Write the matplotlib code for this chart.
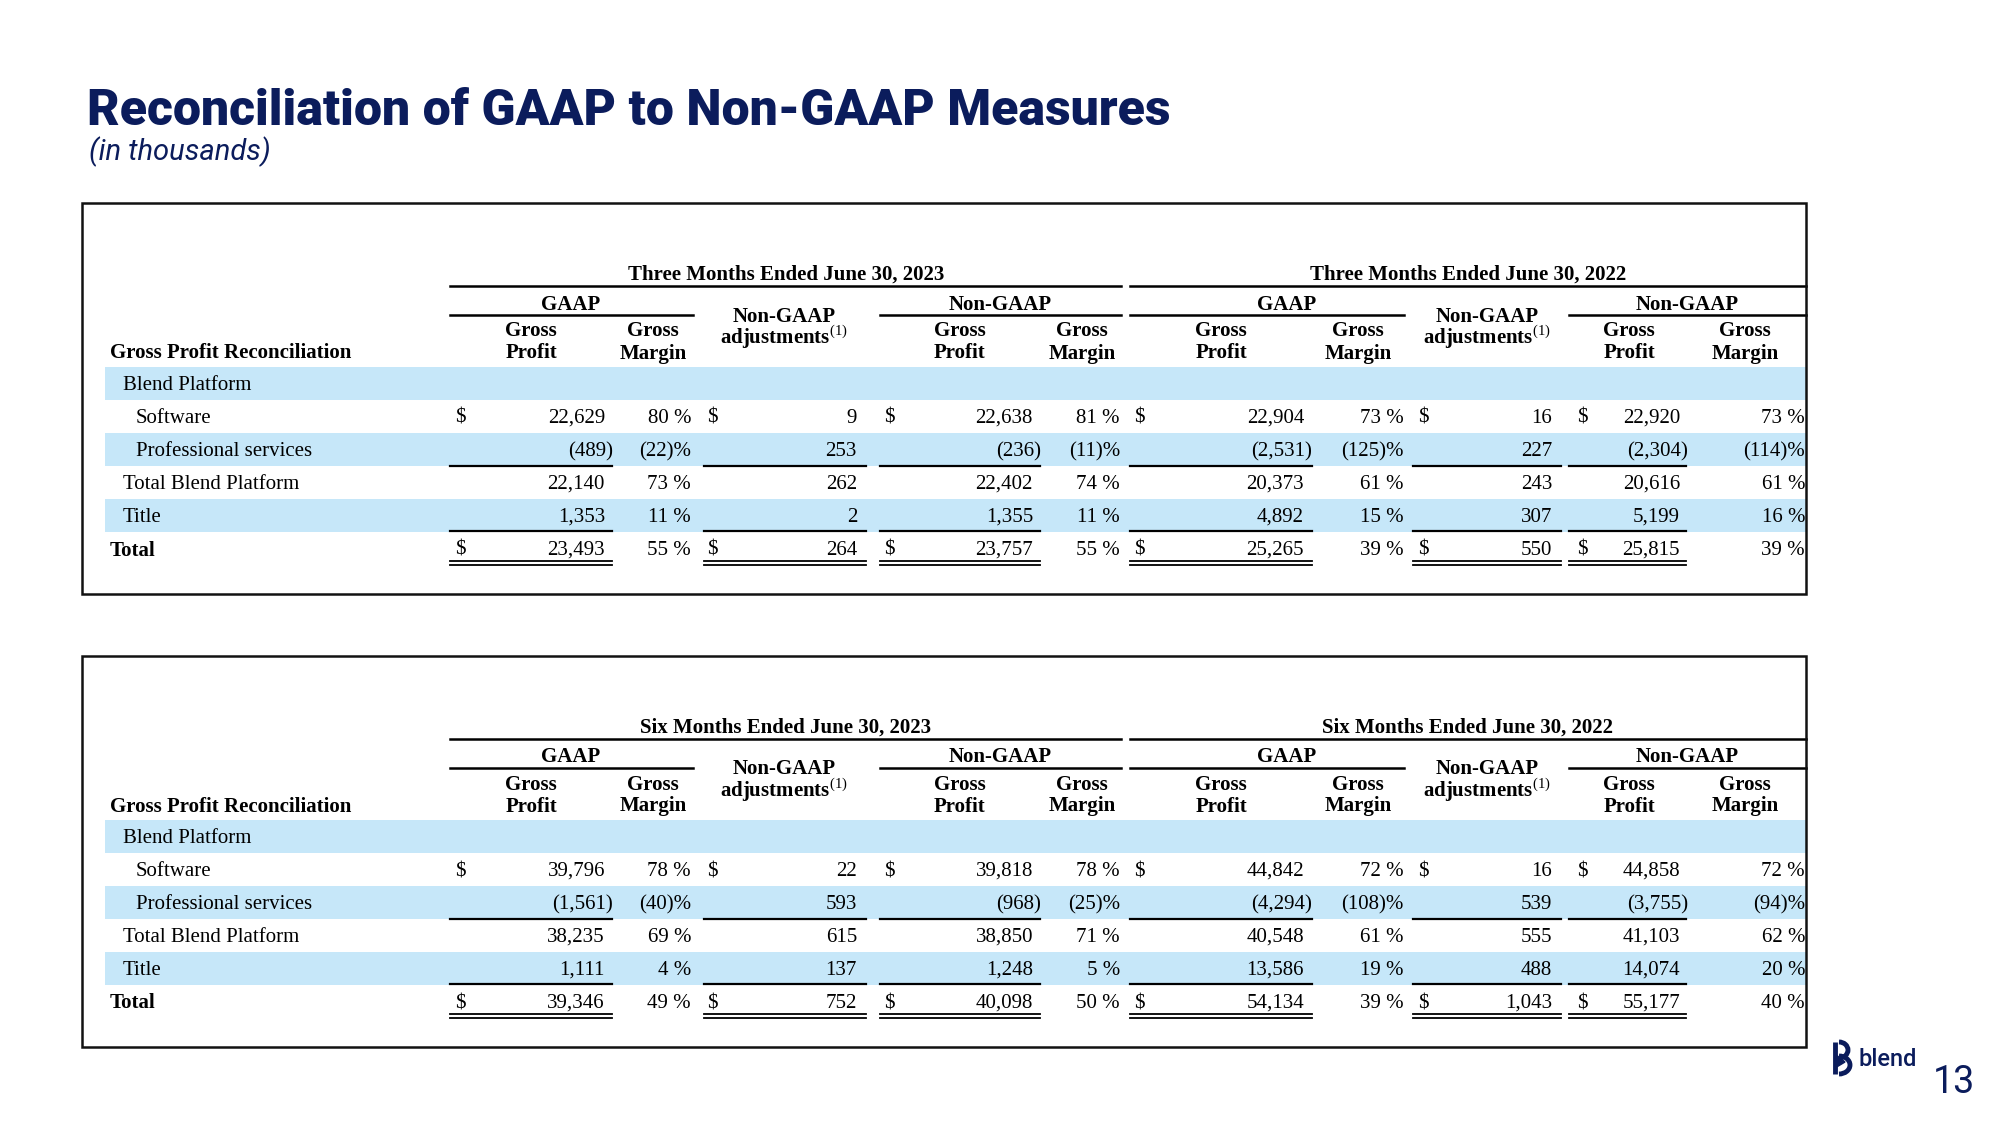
import matplotlib.pyplot as plt
from matplotlib.patches import Rectangle, Arc, Polygon

plt.rcParams['mathtext.fontset'] = 'custom'
plt.rcParams['mathtext.rm'] = 'Liberation Serif'

NAVY = "#0b1c5c"
BAND = "#c6e7f9"
SERIF = "Liberation Serif"

# ---- data -------------------------------------------------------------
row_labels = ["Blend Platform", "Software", "Professional services",
              "Total Blend Platform", "Title", "Total"]
row_indent = [1, 2, 2, 1, 1, 0]

periods_q = ["Three Months Ended June 30, 2023", "Three Months Ended June 30, 2022"]
q23_gaap_gp = [22629, -489, 22140, 1353, 23493]
q23_gaap_gm = [80, -22, 73, 11, 55]
q23_adj = [9, 253, 262, 2, 264]
q23_ng_gp = [22638, -236, 22402, 1355, 23757]
q23_ng_gm = [81, -11, 74, 11, 55]
q22_gaap_gp = [22904, -2531, 20373, 4892, 25265]
q22_gaap_gm = [73, -125, 61, 15, 39]
q22_adj = [16, 227, 243, 307, 550]
q22_ng_gp = [22920, -2304, 20616, 5199, 25815]
q22_ng_gm = [73, -114, 61, 16, 39]

periods_h = ["Six Months Ended June 30, 2023", "Six Months Ended June 30, 2022"]
h23_gaap_gp = [39796, -1561, 38235, 1111, 39346]
h23_gaap_gm = [78, -40, 69, 4, 49]
h23_adj = [22, 593, 615, 137, 752]
h23_ng_gp = [39818, -968, 38850, 1248, 40098]
h23_ng_gm = [78, -25, 71, 5, 50]
h22_gaap_gp = [44842, -4294, 40548, 13586, 54134]
h22_gaap_gm = [72, -108, 61, 19, 39]
h22_adj = [16, 539, 555, 488, 1043]
h22_ng_gp = [44858, -3755, 41103, 14074, 55177]
h22_ng_gm = [72, -94, 62, 20, 40]

# ---- layout (pixels) --------------------------------------------------
# amount columns: dollar x, right edge, underline x0, x1, header centre
amt_cols = [(460, 605, 450, 612, 531),
            (712, 857, 704, 866, 784),
            (889, 1033, 880, 1040, 960),
            (1139, 1304, 1130, 1312, 1221),
            (1423, 1552, 1413, 1561, 1487),
            (1582, 1680, 1569, 1686, 1629)]
# margin columns: right edge, header centre
pct_cols = [(691, 653), (1120, 1082), (1404, 1358), (1805, 1745)]
BOX_L, BOX_R, BOX_H = 82, 1806, 391
FS = 15
DY = 2.5  # text nudge so glyphs sit like the original


def fmt_num(v):
    return "({:,})".format(-v) if v < 0 else "{:,}".format(v)


def fmt_pct(v):
    return "({})%".format(-v) if v < 0 else "{} %".format(v)


def draw_table(ax, top, periods, amts, pcts):
    ax.add_patch(Rectangle((BOX_L, top), BOX_R - BOX_L, BOX_H, fill=False,
                           ec="#111111", lw=1.8, zorder=5))
    txt = dict(family=SERIF, fontsize=FS, color="black", va="center")
    hdr = dict(txt, fontweight="bold")
    t = top + DY

    # period headers
    spans = [(450, 1121, 786), (1130, 1806, 1468)]
    for (x0, x1, cx), p in zip(spans, periods):
        ax.text(cx, t + 69, p, ha="center", **hdr)
        ax.plot([x0, x1], [top + 83, top + 83], color="black", lw=1.8)
    groups = [(450, 693, 571, "GAAP"), (880, 1121, 1000, "Non-GAAP"),
              (1130, 1404, 1287, "GAAP"), (1569, 1806, 1687, "Non-GAAP")]
    for x0, x1, cx, g in groups:
        ax.text(cx, t + 99, g, ha="center", **hdr)
        ax.plot([x0, x1], [top + 112, top + 112], color="black", lw=1.8)
    for i in (1, 4):
        cx = amt_cols[i][4]
        ax.text(cx, t + 111, "Non-GAAP", ha="center", **hdr)
        ax.text(cx, t + 132, r"adjustments$^{(1)}$", ha="center", **hdr)
    for i in (0, 2, 3, 5):
        cx = amt_cols[i][4]
        ax.text(cx, t + 126, "Gross", ha="center", **hdr)
        ax.text(cx, t + 148, "Profit", ha="center", **hdr)
    for r, cx in pct_cols:
        ax.text(cx, t + 126, "Gross", ha="center", **hdr)
        ax.text(cx, t + 148, "Margin", ha="center", **hdr)
    ax.text(110, t + 148, "Gross Profit Reconciliation", ha="left", **hdr)

    # body rows
    pitch = 33
    for k, lab in enumerate(row_labels):
        yc = top + 180 + k * pitch
        if k in (0, 2, 4):
            ax.add_patch(Rectangle((105, yc - 16.5), BOX_R - 105, 33,
                                   color=BAND, lw=0, zorder=0))
        yt = yc + DY
        style = hdr if lab == "Total" else txt
        ax.text(110 + 13 * row_indent[k], yt, lab, ha="left", **style)
        if k == 0:
            continue
        j = k - 1
        for (dx, rx, x0, x1, cx), vals in zip(amt_cols, amts):
            v = vals[j]
            ax.text(rx + (8 if v < 0 else 0), yt, fmt_num(v), ha="right", **txt)
            if lab in ("Software", "Total"):
                ax.text(dx, yt, "$", ha="center", **txt)
        for (rx, cx), vals in zip(pct_cols, pcts):
            ax.text(rx, yt, fmt_pct(vals[j]), ha="right", **txt)

    # underlines
    for dx, rx, x0, x1, cx in amt_cols:
        for yl in (top + 263, top + 328):
            ax.plot([x0, x1], [yl, yl], color="black", lw=1.6)
        for yl in (top + 358, top + 362):
            ax.plot([x0, x1], [yl, yl], color="black", lw=1.3)


fig = plt.figure(figsize=(20, 11.25), dpi=100)
ax = fig.add_axes([0, 0, 1, 1])
ax.set_xlim(0, 2000)
ax.set_ylim(1125, 0)
ax.axis("off")

ax.text(87, 125, "Reconciliation of GAAP to Non-GAAP Measures", family="Roboto",
        fontweight="black", fontsize=36, color=NAVY, va="baseline", ha="left")
ax.text(89, 160, "(in thousands)", family="Roboto", fontweight="normal",
        style="italic", fontsize=21, color=NAVY, va="baseline", ha="left")

draw_table(ax, 203, periods_q,
           [q23_gaap_gp, q23_adj, q23_ng_gp, q22_gaap_gp, q22_adj, q22_ng_gp],
           [q23_gaap_gm, q23_ng_gm, q22_gaap_gm, q22_ng_gm])
draw_table(ax, 656, periods_h,
           [h23_gaap_gp, h23_adj, h23_ng_gp, h22_gaap_gp, h22_adj, h22_ng_gp],
           [h23_gaap_gm, h23_ng_gm, h22_gaap_gm, h22_ng_gm])

# logo and page number
ax.plot([1835, 1835], [1042, 1074], color=NAVY, lw=3.5, solid_capstyle="butt")
ax.add_patch(Arc((1839, 1050), 18, 16, theta1=-90, theta2=90, color=NAVY, lw=3.5))
ax.add_patch(Arc((1839, 1065), 22, 18, theta1=-90, theta2=90, color=NAVY, lw=3.5))
ax.add_patch(Polygon([[1835, 1054], [1845, 1062], [1835, 1068]], color=NAVY))
ax.text(1859, 1060, "blend", family="Roboto", fontweight="medium", fontsize=17,
        color=NAVY, va="center", ha="left")
ax.text(1954, 1093, "13", family="Roboto", fontsize=27, color=NAVY,
        va="baseline", ha="center")

fig.savefig("out.png", dpi=100)
